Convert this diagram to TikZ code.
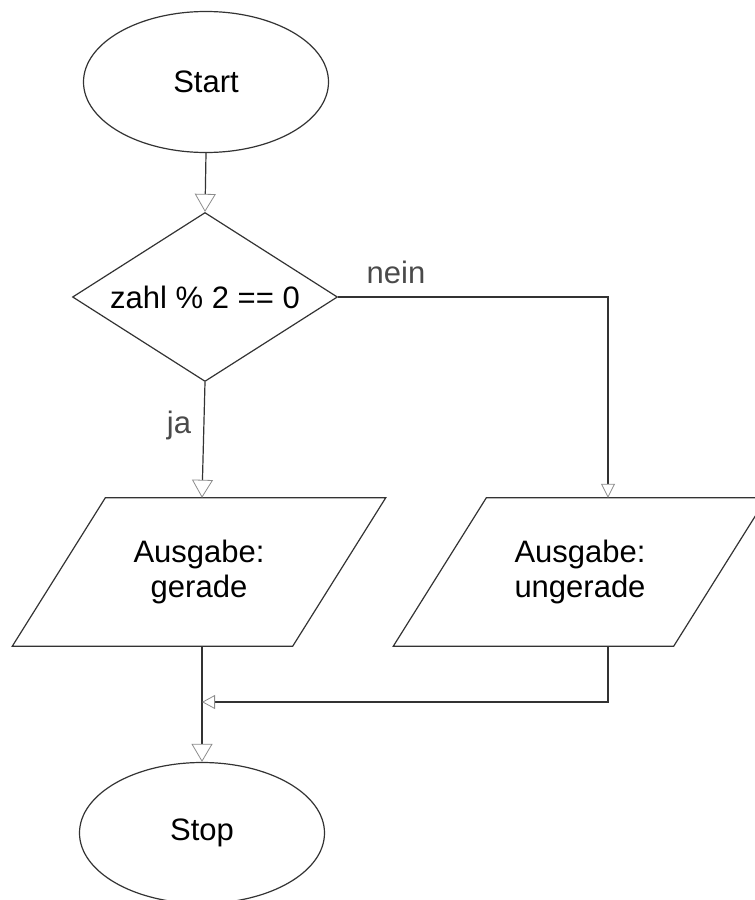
\documentclass[tikz,border=0pt]{standalone}
\usepackage{fontspec}
\setmainfont{Liberation Sans}
\usetikzlibrary{shapes.geometric,arrows.meta,calc}
\definecolor{lin}{HTML}{333333}
\definecolor{tipc}{HTML}{8C8C8C}
\definecolor{lblc}{HTML}{4A4A4A}
\begin{document}
\begin{tikzpicture}[x=1pt,y=-1pt,
  every node/.style={font=\fontsize{31}{35}\selectfont, text=black},
  shp/.style={draw=lin, line width=1.2pt},
  term/.style={shp, ellipse, minimum width=245pt, minimum height=141pt, inner sep=0pt},
  decision/.style={shp, diamond, aspect=1.57, minimum width=265pt, minimum height=169pt, inner sep=0pt},
  io/.style={rectangle, minimum width=280pt, minimum height=148pt, inner sep=0pt, align=center},
  conn/.style={draw=lin, line width=1.2pt},
  bigtip/.style={-{Triangle[open,length=18pt,width=21pt,color=tipc,line width=0.8pt]}},
  midtip/.style={-{Triangle[open,length=14pt,width=14pt,color=tipc,line width=0.8pt]}},
  smalltip/.style={-{Triangle[open,length=13pt,width=14pt,color=tipc,line width=0.8pt]}},
  lbl/.style={text=lblc, anchor=base}
]
\useasboundingbox (0,0) rectangle (755,900);
\node[term] (start) at (206,82) {Start};
\node[decision] (dec) at (205,297) {zahl \% 2 == 0};
\node[io] (out1) at (199,572) {Ausgabe:\\gerade};
\node[io] (out2) at (580,572) {Ausgabe:\\ungerade};
\node[term] (stop) at (202,833) {Stop};
\foreach \n in {out1,out2}{
  \draw[shp] ($(\n.north west)+(46.5,0)$) -- ($(\n.north east)+(46.5,0)$)
    -- ($(\n.south east)+(-46.5,0)$) -- ($(\n.south west)+(-46.5,0)$) -- cycle;
}
\coordinate (in1) at ($(out1.north)+(3,0)$);
\coordinate (o1) at ($(out1.south)+(3,0)$);
\coordinate (in2) at ($(out2.north)+(28,0)$);
\coordinate (o2) at ($(out2.south)+(28,0)$);
\coordinate (merge) at (202,702);
\node[lbl] (nein) at (396,283) {nein};
\node[lbl] (ja) at (179,433) {ja};
\draw[conn,bigtip] (start.south) -- (dec.north);
\draw[conn,midtip] (dec.east) -| (in2);
\draw[conn,bigtip] (dec.south) -- (in1);
\draw[conn,bigtip] (o1) -- (stop.north);
\draw[conn,smalltip] (o2) |- (merge);
\end{tikzpicture}
\end{document}
